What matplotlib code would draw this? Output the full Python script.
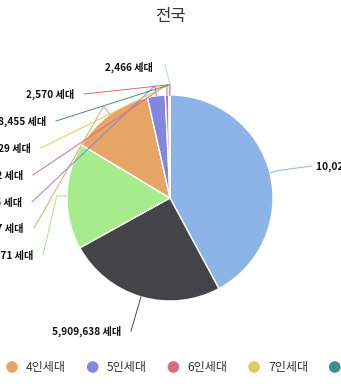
import numpy as np
import matplotlib
matplotlib.use('Agg')
import matplotlib.pyplot as plt

plt.rcParams['font.family'] = ['Noto Sans CJK KR', 'DejaVu Sans']

# data
categories = ['1인세대', '2인세대', '3인세대', '4인세대', '5인세대',
              '6인세대', '7인세대', '8인세대', '9인세대', '10인세대']
households = [10021413, 5909638, 3957371, 3065437, 660315,
              131802, 28729, 8455, 2570, 2466]
colors = ['#8db4e6', '#434348', '#a6eb8c', '#e6a565', '#8286e0',
          '#dd6a80', '#d9cf5a', '#3f8f8e', '#e8636b', '#9fe3dc']

# pixel layout helpers (pie centre at 170,198, radius 103 px)
CX, CY, R = 170.0, 198.0, 103.0
W, H = 341, 390

def to_data(px, py):
    return (px - CX) / R, (CY - py) / R

fig = plt.figure(figsize=(W / 100, H / 100), dpi=100)
ax = fig.add_axes([0, 0, 1, 1])
wedges, _ = ax.pie(households, colors=colors, startangle=90, counterclock=False,
                   radius=1.0, wedgeprops=dict(edgecolor='white', linewidth=1))
ax.set_xlim(-CX / R, (W - CX) / R)
ax.set_ylim(-(H - CY) / R, CY / R)
ax.set_aspect('auto')
ax.axis('off')

# title
tx, ty = to_data(170, 17)
ax.text(tx, ty, '전국', ha='center', va='center', fontsize=12, color='#333333')

# label positions: (x px, y px, align)
label_pos = [
    (316, 166, 'left'),
    (121, 331, 'right'),
    (33, 255, 'right'),
    (24, 228, 'right'),
    (22, 202, 'right'),
    (23, 175, 'right'),
    (31, 148, 'right'),
    (46, 121, 'right'),
    (74, 94, 'right'),
    (153, 67, 'right'),
]

for i, w in enumerate(wedges):
    mid = np.deg2rad((w.theta1 + w.theta2) / 2)
    ex, ey = np.cos(mid), np.sin(mid)
    px, py, ha = label_pos[i]
    lx, ly = to_data(px, py)
    text = '{:,} 세대'.format(households[i])
    ax.text(lx, ly, text, ha=ha, va='center', fontsize=7.3, color='#111111',
            fontweight='bold')
    # connector start
    if ha == 'left':
        sx, sy = to_data(px - 4, py)
    else:
        sx, sy = to_data(px + 10, py)
    if i == 9:
        sx, sy = to_data(px + 12, py - 2)
    bx, by = 1.1 * ex, 1.1 * ey
    ax.plot([sx, bx, ex], [sy, by, ey], color=colors[i], lw=0.7,
            solid_joinstyle='round')

# legend along bottom
leg_y = 367
for i, name in enumerate(categories):
    cxp = 12 + (i - 3) * 80.7
    mx, my = to_data(cxp, leg_y)
    ax.scatter([mx], [my], s=70, color=colors[i], edgecolors='none', clip_on=False)
    nx, ny = to_data(cxp + 14, leg_y)
    ax.text(nx, ny, name, ha='left', va='center', fontsize=8.7, color='#333333',
            fontweight='medium')

fig.savefig('out.png', dpi=100)
